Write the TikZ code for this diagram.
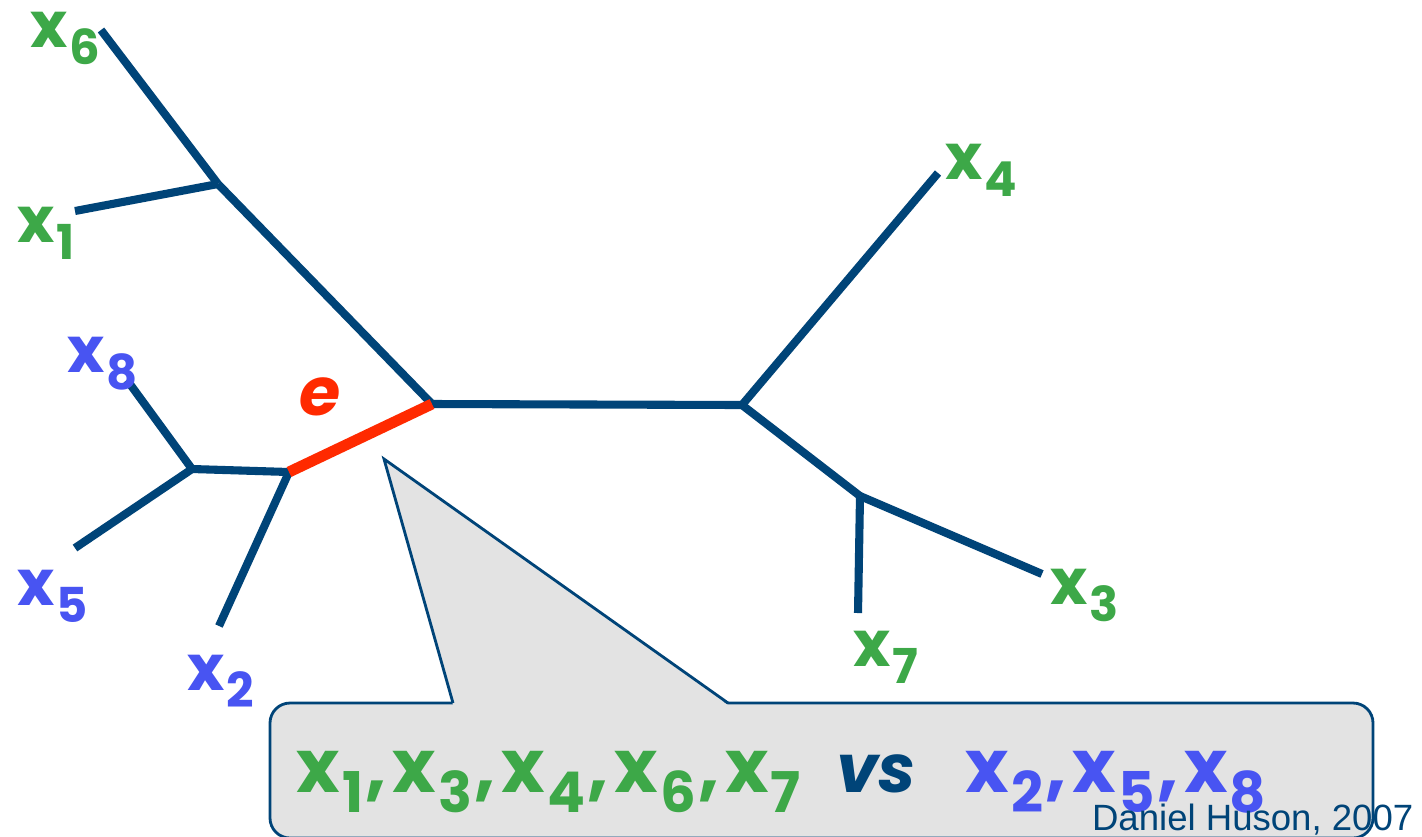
\documentclass[tikz,border=0pt]{standalone}
\usepackage{fontspec}
\setmainfont{Poppins}
\newfontfamily\creditfont{Liberation Sans}
\usetikzlibrary{calc}
\definecolor{treeblue}{RGB}{0,68,120}
\definecolor{leafgreen}{RGB}{61,168,72}
\definecolor{leafblue}{RGB}{72,84,242}
\definecolor{splitred}{RGB}{255,42,0}
\definecolor{callgray}{RGB}{227,227,227}
\tikzset{
  branch/.style={draw=treeblue,line width=2.3pt},
  splitedge/.style={draw=splitred,line width=3.1pt},
  leaf/.style={anchor=base west,inner sep=0pt,font=\fontsize{18}{18}\selectfont\bfseries},
  bigleaf/.style={anchor=base west,inner sep=0pt,font=\fontsize{21}{21}\selectfont\bfseries},
}
% x with a lowered index
\newcommand{\taxon}[1]{x\kern.03em\raisebox{-.28em}{\scalebox{.76}{#1}}}
\newcommand{\sep}{\kern.03em,\kern.08em}

\begin{document}
\begin{tikzpicture}[x=0.01cm,y=-0.01cm]
  \clip (0,0) rectangle (1422,836);
  \fill[white] (0,0) rectangle (1422,836);
  % inner vertices
  \coordinate (A) at (218,184);
  \coordinate (B) at (432,404);
  \coordinate (C) at (742,405);
  \coordinate (D) at (860,496);
  \coordinate (E) at (289,472);
  \coordinate (F) at (192,469);
  % leaf tips
  \coordinate (t1) at (75,211);
  \coordinate (t2) at (219,626);
  \coordinate (t3) at (1042,574);
  \coordinate (t4) at (938,173);
  \coordinate (t5) at (75,548);
  \coordinate (t6) at (101,30);
  \coordinate (t7) at (858,613);
  \coordinate (t8) at (127,380);
  \foreach \a/\b in {t6/A,A/t1,A/B,B/C,C/t4,C/D,D/t3,D/t7,E/F,F/t8,F/t5,E/t2}
    \draw[branch] (\a) -- (\b);
  \draw[splitedge] (E) -- (B);
  \node[font=\fontsize{19}{19}\selectfont\bfseries\itshape,text=splitred,anchor=base west,inner sep=0pt] (e) at (299,415) {e};
  % leaf labels
  \node[leaf,text=leafgreen] (lab6) at (30,47) {\taxon{6}};
  \node[leaf,text=leafgreen] (lab1) at (17,242) {\taxon{1}};
  \node[leaf,text=leafblue] (lab8) at (67,372) {\taxon{8}};
  \node[leaf,text=leafblue] (lab5) at (17,605) {\taxon{5}};
  \node[leaf,text=leafblue] (lab2) at (187,690) {\taxon{2}};
  \node[leaf,text=leafgreen] (lab4) at (945,179) {\taxon{4}};
  \node[leaf,text=leafgreen] (lab3) at (1050,604) {\taxon{3}};
  \node[leaf,text=leafgreen] (lab7) at (853,666) {\taxon{7}};
  % callout
  \draw[treeblue,line width=0.8pt,fill=callgray,rounded corners=0.2cm] (270,703) rectangle (1373,838);
  \fill[callgray] (453,705) -- (384,459) -- (728,705) -- cycle;
  \draw[treeblue,line width=0.8pt,line join=miter] (453,703) -- (384,459) -- (728,703);
  \node[bigleaf,text=leafgreen] (left) at (296,792) {\taxon{1}\sep\taxon{3}\sep\taxon{4}\sep\taxon{6}\sep\taxon{7}};
  \node[bigleaf,text=treeblue,font=\fontsize{19}{19}\selectfont\bfseries\itshape] (vs) at (836,792) {vs};
  \node[bigleaf,text=leafblue] (right) at (965,792) {\taxon{2}\sep\taxon{5}\sep\taxon{8}};
  \node[anchor=base east,inner sep=0pt,text=treeblue,font=\creditfont\fontsize{10.4}{10.4}\selectfont] (credit) at (1414,830) {Daniel Huson, 2007};
\end{tikzpicture}
\end{document}
